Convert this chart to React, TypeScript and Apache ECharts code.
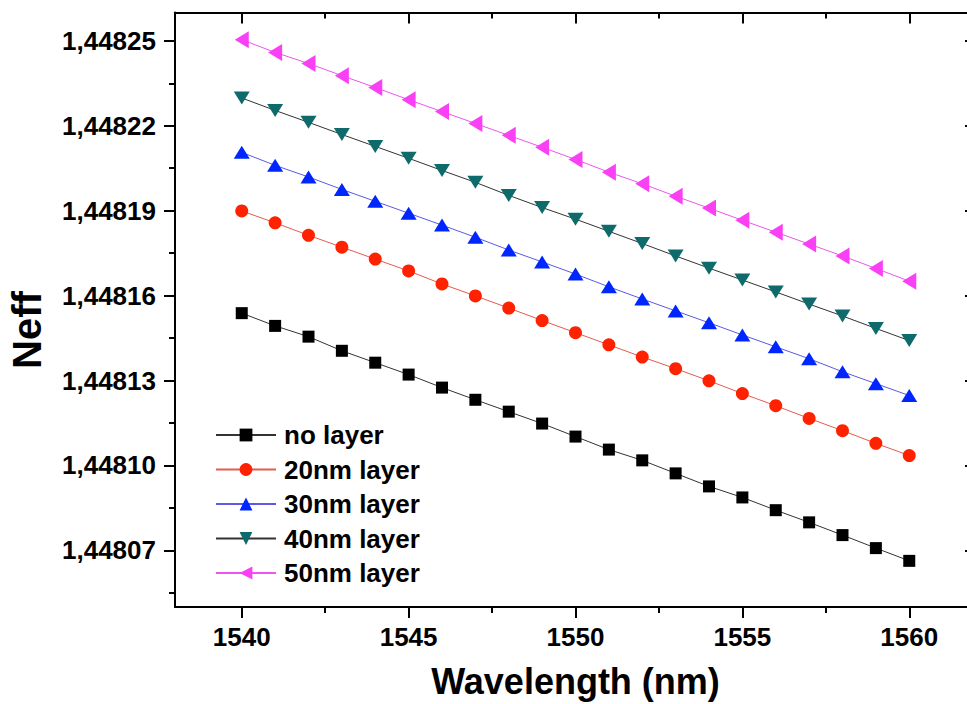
import React, { useEffect, useRef } from "react";
import * as echarts from "echarts";

const wavelengths = [1540, 1541, 1542, 1543, 1544, 1545, 1546, 1547, 1548, 1549, 1550, 1551, 1552, 1553, 1554, 1555, 1556, 1557, 1558, 1559, 1560];

const noLayer = [1.4481538, 1.4481493, 1.4481455, 1.4481405, 1.4481363, 1.4481321, 1.4481275, 1.4481232, 1.448119, 1.4481148, 1.4481102, 1.4481056, 1.4481018, 1.4480972, 1.4480926, 1.4480887, 1.4480842, 1.4480799, 1.4480754, 1.4480708, 1.4480663];
const layer20 = [1.4481899, 1.4481857, 1.4481813, 1.4481771, 1.4481729, 1.4481687, 1.4481641, 1.4481599, 1.4481556, 1.4481512, 1.4481469, 1.4481426, 1.4481383, 1.4481342, 1.4481299, 1.4481254, 1.4481211, 1.4481166, 1.4481123, 1.4481078, 1.4481035];
const layer30 = [1.4482106, 1.448206, 1.4482019, 1.4481975, 1.4481933, 1.4481891, 1.4481849, 1.4481806, 1.4481761, 1.4481719, 1.4481676, 1.4481631, 1.4481588, 1.4481546, 1.4481504, 1.4481461, 1.4481419, 1.4481377, 1.4481331, 1.4481289, 1.4481247];
const layer40 = [1.4482298, 1.4482254, 1.4482212, 1.4482169, 1.4482127, 1.4482085, 1.4482042, 1.4482, 1.4481954, 1.4481911, 1.448187, 1.4481827, 1.4481784, 1.448174, 1.4481697, 1.4481655, 1.4481613, 1.448157, 1.4481528, 1.4481484, 1.4481441];
const layer50 = [1.4482504, 1.4482459, 1.448242, 1.4482377, 1.4482335, 1.4482292, 1.448225, 1.4482208, 1.4482166, 1.4482124, 1.4482081, 1.4482036, 1.4481995, 1.4481951, 1.4481909, 1.4481866, 1.4481824, 1.4481782, 1.448174, 1.4481696, 1.4481651];

const seriesNames = ["no layer", "20nm layer", "30nm layer", "40nm layer", "50nm layer"];

const xMajorTicks = [1540, 1545, 1550, 1555, 1560];
const xMinorTicks = [1542.5, 1547.5, 1552.5, 1557.5];
const yMajorTicks = [1.44807, 1.4481, 1.44813, 1.44816, 1.44819, 1.44822, 1.44825];
const yMinorTicks = [1.448055, 1.448085, 1.448115, 1.448145, 1.448175, 1.448205, 1.448235];

const FONT = 'Arial, "Liberation Sans", sans-serif';

export default function App() {
  const ref = useRef<HTMLDivElement>(null);

  useEffect(() => {
    if (!ref.current) return;
    document.body.style.overflow = "hidden";
    const chart = echarts.init(ref.current, undefined, { renderer: "svg" });

    const pair = (vals: number[]) => wavelengths.map((w, i) => [w, vals[i]]);

    const lineW = 2;
    const xBase = {
      type: "value",
      min: 1538,
      max: 1562,
      splitLine: { show: false },
      axisLabel: { show: false },
    };
    const yBase = {
      type: "value",
      min: 1.44805,
      max: 1.44826,
      splitLine: { show: false },
      axisLabel: { show: false },
    };

    const option: any = {
      animation: false,
      backgroundColor: "#ffffff",
      grid: { left: 175, top: 12.5, bottom: 95, right: 0 },
      xAxis: [
        {
          ...xBase,
          position: "bottom",
          axisLine: { show: true, lineStyle: { color: "#000", width: lineW } },
          axisTick: { show: true, length: 11, lineStyle: { color: "#000", width: lineW }, customValues: xMajorTicks },
          axisLabel: {
            show: true,
            customValues: xMajorTicks,
            margin: 17,
            fontSize: 26,
            fontWeight: "bold",
            fontFamily: FONT,
            color: "#000",
            formatter: (v: number) => String(v),
          },
          name: "Wavelength (nm)",
          nameLocation: "middle",
          nameGap: 56,
          nameTextStyle: { fontSize: 36, fontWeight: "bold", fontFamily: FONT, color: "#000" },
        },
        {
          ...xBase,
          position: "bottom",
          axisLine: { show: false },
          axisTick: { show: true, length: 6, lineStyle: { color: "#000", width: lineW }, customValues: xMinorTicks },
        },
        {
          ...xBase,
          position: "top",
          axisLine: { show: true, lineStyle: { color: "#000", width: lineW } },
          axisTick: { show: true, inside: true, length: 11, lineStyle: { color: "#000", width: lineW }, customValues: xMajorTicks },
        },
        {
          ...xBase,
          position: "top",
          axisLine: { show: false },
          axisTick: { show: true, inside: true, length: 6, lineStyle: { color: "#000", width: lineW }, customValues: xMinorTicks },
        },
      ],
      yAxis: [
        {
          ...yBase,
          position: "left",
          axisLine: { show: true, lineStyle: { color: "#000", width: lineW } },
          axisTick: { show: true, length: 11, lineStyle: { color: "#000", width: lineW }, customValues: yMajorTicks },
          axisLabel: {
            show: true,
            customValues: yMajorTicks,
            margin: 19,
            fontSize: 26,
            fontWeight: "bold",
            fontFamily: FONT,
            color: "#000",
            formatter: (v: number) => v.toFixed(5).replace(".", ","),
          },
        },
        {
          ...yBase,
          position: "left",
          axisLine: { show: false },
          axisTick: { show: true, length: 6, lineStyle: { color: "#000", width: lineW }, customValues: yMinorTicks },
        },
        {
          ...yBase,
          position: "right",
          axisLine: { show: true, lineStyle: { color: "#000", width: lineW } },
          axisTick: { show: true, inside: true, length: 11, lineStyle: { color: "#000", width: lineW }, customValues: yMajorTicks },
        },
        {
          ...yBase,
          position: "right",
          axisLine: { show: false },
          axisTick: { show: true, inside: true, length: 6, lineStyle: { color: "#000", width: lineW }, customValues: yMinorTicks },
        },
      ],
      legend: {
        left: 215,
        top: 422,
        orient: "vertical",
        padding: 0,
        itemWidth: 60,
        itemHeight: 16,
        itemGap: 8.5,
        data: seriesNames,
        textStyle: {
          fontSize: 26,
          lineHeight: 25,
          fontWeight: "bold",
          fontFamily: FONT,
          color: "#000",
          padding: [0, 0, 0, 3],
        },
      },
      graphic: [
        {
          type: "text",
          x: 27,
          y: 330,
          rotation: Math.PI / 2,
          style: {
            text: "Neff",
            fontSize: 40,
            fontWeight: "bold",
            fontFamily: FONT,
            fill: "#000",
            align: "center",
            verticalAlign: "middle",
          },
        },
      ],
      series: [
        {
          name: seriesNames[0],
          type: "line",
          data: pair(noLayer),
          symbol: "rect",
          symbolSize: 12,
          lineStyle: { color: "#333333", width: 1 },
          itemStyle: { color: "#000000" },
        },
        {
          name: seriesNames[1],
          type: "line",
          data: pair(layer20),
          symbol: "circle",
          symbolSize: 13,
          lineStyle: { color: "#e65a50", width: 1 },
          itemStyle: { color: "#ff2200" },
        },
        {
          name: seriesNames[2],
          type: "line",
          data: pair(layer30),
          symbol: "triangle",
          symbolSize: [16, 13],
          lineStyle: { color: "#5a5ae6", width: 1 },
          itemStyle: { color: "#0026ff" },
        },
        {
          name: seriesNames[3],
          type: "line",
          data: pair(layer40),
          symbol: "triangle",
          symbolRotate: 180,
          symbolSize: [16, 13],
          lineStyle: { color: "#333333", width: 1 },
          itemStyle: { color: "#0f6b6b" },
        },
        {
          name: seriesNames[4],
          type: "line",
          data: pair(layer50),
          symbol: "triangle",
          symbolRotate: 90,
          symbolSize: [17, 14],
          lineStyle: { color: "#ee55ee", width: 1 },
          itemStyle: { color: "#f940f5" },
        },
      ],
    };

    chart.setOption(option);
    return () => chart.dispose();
  }, []);

  return (
    <div
      ref={ref}
      style={{ position: "fixed", left: 0, top: 0, width: 976, height: 704, background: "#fff" }}
    />
  );
}
